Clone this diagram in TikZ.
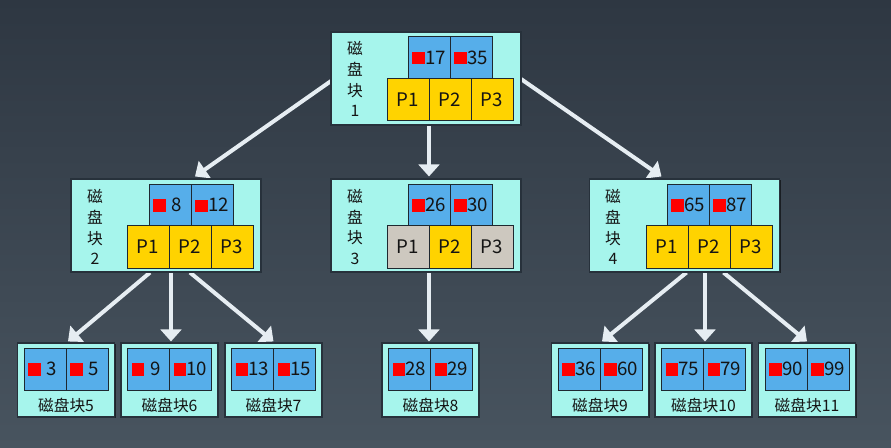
\documentclass[tikz,border=0pt]{standalone}
\usepackage{fontspec}
\setmainfont{Noto Sans CJK SC}
\usetikzlibrary{arrows.meta,calc,shadows}
\definecolor{bgtop}{HTML}{2E3742}
\definecolor{bgbot}{HTML}{48545F}
\definecolor{boxfill}{HTML}{A6F5EC}
\definecolor{boxline}{HTML}{27313B}
\definecolor{cellblue}{HTML}{56AEEA}
\definecolor{cellyel}{HTML}{FFD300}
\definecolor{cellgray}{HTML}{CDC8BF}
\definecolor{cellline}{HTML}{1E2830}
\definecolor{arrowc}{HTML}{E6EDF2}
\definecolor{txt}{HTML}{141414}
\newcommand{\sq}{{\color{red}\rule{9.2pt}{9.2pt}}\nobreak\hspace{0.4pt}}
\newcommand{\sqs}{{\color{red}\rule{9.2pt}{9.2pt}}\nobreak\hspace{4.5pt}}
\pgfdeclarelayer{back}
\pgfdeclarelayer{arr}
\pgfsetlayers{back,arr,main}
\begin{document}
\begin{tikzpicture}[x=0.75pt,y=-0.75pt,
  disk/.style={draw=boxline, fill=boxfill, line width=0.8pt,
    drop shadow={shadow xshift=0.9pt, shadow yshift=-0.9pt, fill=black, opacity=0.55}},
  bcell/.style={draw=cellline, fill=cellblue, line width=0.7pt, minimum height=31.5pt,
    inner xsep=3.2pt, inner ysep=0pt, text width=25.1pt, align=left,
    font=\fontsize{14}{16}\selectfont, text=txt},
  ycell/.style={draw=cellline, fill=cellyel, line width=0.7pt, minimum width=31.5pt,
    minimum height=32pt, inner sep=0pt, font=\fontsize{14}{16}\selectfont, text=txt},
  gcell/.style={ycell, fill=cellgray},
  vlabel/.style={align=center, inner sep=0pt, font=\fontsize{11.8}{15.6}\selectfont, text=txt},
  llabel/.style={inner sep=0pt, font=\fontsize{11.8}{14}\selectfont, text=txt},
  conn/.style={draw=arrowc, line width=3pt, -{Triangle[width=15.5pt,length=9pt]}}
]
\begin{pgfonlayer}{back}
\shade[top color=bgtop, bottom color=bgbot] (0,0) rectangle (891,448);
\end{pgfonlayer}

% root
\node[disk, minimum width=142.5pt, minimum height=69.75pt] (n1) at (426,78.5) {};
\node[bcell] (n1a) at (429,57.5) {\sq17};
\node[bcell] (n1b) at (471,57.5) {\sq35};
\node[ycell] (n1p1) at (408,99.5) {P1};
\node[ycell] (n1p2) at (450,99.5) {P2};
\node[ycell] (n1p3) at (492,99.5) {P3};
\node[vlabel] (n1l) at (355,79) {磁\\盘\\块\\1};

% node 2
\node[disk, minimum width=142.5pt, minimum height=69.75pt] (n2) at (166,225.5) {};
\node[bcell] (n2a) at (170,205) {\sqs8};
\node[bcell] (n2b) at (212,205) {\sq12};
\node[ycell] (n2p1) at (148,247) {P1};
\node[ycell] (n2p2) at (190,247) {P2};
\node[ycell] (n2p3) at (232,247) {P3};
\node[vlabel] (n2l) at (95,227) {磁\\盘\\块\\2};

% node 3
\node[disk, minimum width=142.5pt, minimum height=69.75pt] (n3) at (426,225.5) {};
\node[bcell] (n3a) at (429,205) {\sq26};
\node[bcell] (n3b) at (471,205) {\sq30};
\node[gcell] (n3p1) at (408,247) {P1};
\node[ycell] (n3p2) at (450,247) {P2};
\node[gcell] (n3p3) at (492,247) {P3};
\node[vlabel] (n3l) at (355,227) {磁\\盘\\块\\3};

% node 4
\node[disk, minimum width=142.5pt, minimum height=69.75pt] (n4) at (684.5,225.5) {};
\node[bcell] (n4a) at (688,205) {\sq65};
\node[bcell] (n4b) at (730,205) {\sq87};
\node[ycell] (n4p1) at (667,247) {P1};
\node[ycell] (n4p2) at (709,247) {P2};
\node[ycell] (n4p3) at (751,247) {P3};
\node[vlabel] (n4l) at (613,227) {磁\\盘\\块\\4};

% leaves
\newcommand{\leaf}[5]{%
  \node[disk, minimum width=72.75pt, minimum height=55.5pt] (#1) at (#2,380) {};
  \node[bcell] (#1a) at (#2-21,369) {#3};
  \node[bcell] (#1b) at (#2+21,369) {#4};
  \node[llabel] (#1l) at (#2,405) {#5};}
\leaf{l5}{66}{\sqs3}{\sqs5}{磁盘块5}
\leaf{l6}{169.5}{\sqs9}{\sq10}{磁盘块6}
\leaf{l7}{273.5}{\sq13}{\sq15}{磁盘块7}
\leaf{l8}{430.5}{\sq28}{\sq29}{磁盘块8}
\leaf{l9}{600}{\sq36}{\sq60}{磁盘块9}
\leaf{l10}{703.5}{\sq75}{\sq79}{磁盘块10}
\leaf{l11}{807}{\sq90}{\sq99}{磁盘块11}

% connectors
\begin{pgfonlayer}{arr}
\draw[conn] ($(n1.west)+(2,1.5)$) -- ($(n2.north)+(29,-2)$);
\draw[conn] ($(n1.south)+(3,0)$) -- ($(n3.north)+(3,-2)$);
\draw[conn] ($(n1.east)+(-2,-0.5)$) -- ($(n4.north)+(-23,-2)$);
\draw[conn] ($(n2.south)+(-16,0)$) -- ($(l5.north)+(2,-1)$);
\draw[conn] ($(n2.south)+(5,0)$) -- ($(l6.north)+(1.5,-1)$);
\draw[conn] ($(n2.south)+(24,0)$) -- ($(l7.north)+(0,-1)$);
\draw[conn] ($(n3.south)+(3,0)$) -- ($(l8.north)+(-1.5,-1)$);
\draw[conn] ($(n4.south)+(2,0)$) -- ($(l9.north)+(2,-1)$);
\draw[conn] ($(n4.south)+(20.5,0)$) -- ($(l10.north)+(1.5,-1)$);
\draw[conn] ($(n4.south)+(39,0)$) -- ($(l11.north)+(0,-1)$);
\end{pgfonlayer}
\end{tikzpicture}
\end{document}
